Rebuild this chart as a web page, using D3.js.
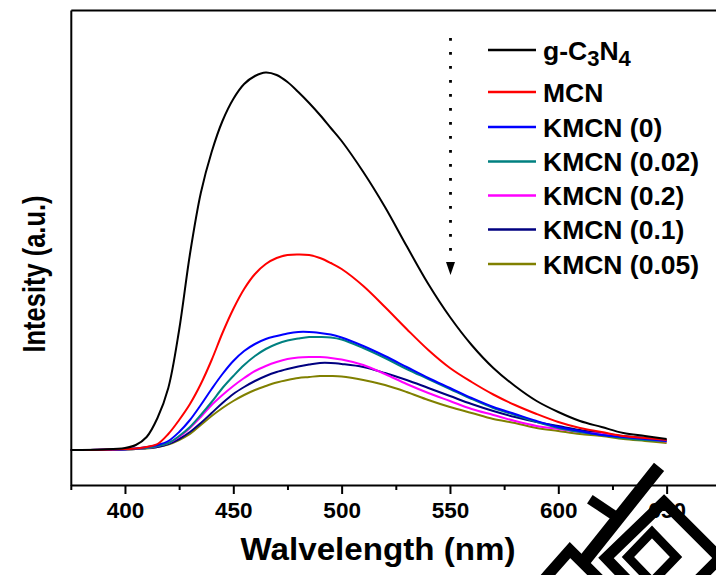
<!DOCTYPE html>
<html>
<head>
<meta charset="utf-8">
<script src="https://cdn.jsdelivr.net/npm/d3@7"></script>
<style>
  body { margin: 0; background: #fff; }
  svg { display: block; }
  text { font-family: "Liberation Sans", Arial, sans-serif; font-weight: bold; fill: #000; }
</style>
</head>
<body>
<div id="chart"></div>
<script>
// Wavelength grid (nm) shared by all spectra
const wavelengths = [375, 390, 400, 405, 410, 415, 420, 425, 430, 435, 440, 445, 450, 455, 460, 465, 470, 475, 480,
  485, 490, 495, 500, 510, 520, 530, 540, 550, 560, 570, 580, 590, 600, 610, 620, 630, 640, 650];

// PL intensity (a.u.)
const gC3N4 = [0, 0.5, 2, 5, 13, 32, 62, 120, 196, 257, 298, 329, 351, 366, 374, 377.5, 375, 368, 358,
  347, 335, 322, 309, 278, 243, 204, 166, 133, 105, 82, 64, 49, 38, 29, 23, 17, 14, 11];
const mcn = [0, 0.3, 1, 1.5, 3, 6, 16, 30, 46, 66, 90, 117, 141, 161, 176, 186, 192, 195, 195.5,
  195, 192, 187, 181, 164, 143, 121, 100, 82, 68, 55.5, 45, 36, 28, 22, 18, 14, 12, 10];
const kmcn0 = [0, 0.2, 0.8, 1.5, 3, 5, 9, 18, 30, 45, 61, 76, 89, 99, 106, 111, 114, 116.5, 118,
  118, 117, 115.5, 112.5, 104, 94, 83, 72, 62, 52, 43, 36, 29, 23, 19, 15, 13, 11, 9];
const kmcn002 = [0, 0.2, 0.7, 1.2, 2, 4, 7, 14, 23, 35, 48, 62, 74, 85, 94, 101, 106, 109.5, 111.5,
  113, 113, 112.5, 110.5, 102, 92, 81, 71, 61, 51, 42, 35, 28, 22, 18, 15, 12, 10, 9];
const kmcn02 = [0, 0.2, 0.7, 1.2, 2, 4, 7, 13, 22, 33, 45, 55, 64, 72, 79, 84, 88, 91, 92.5,
  93, 93, 92, 90.5, 85, 76, 66, 57, 49, 41, 35, 29, 24, 21, 18, 16, 13, 11, 8.5];
const kmcn01 = [0, 0.2, 0.6, 1, 2, 3, 6, 11, 18, 27, 37, 47, 56, 63, 69, 74, 78, 81, 83.5,
  85.5, 87, 87, 86, 83, 77, 70, 62, 54, 46, 39, 33, 28, 24, 20, 17, 14, 12, 10];
const kmcn005 = [0, 0.2, 0.5, 1, 1.5, 3, 5.5, 10, 16, 25, 34, 42, 49, 55, 60, 64, 67.5, 70, 72,
  73, 74, 74, 73.5, 70, 65, 58, 50, 43, 37, 31, 27, 22, 19, 16, 14, 11, 9, 7];

const seriesNames = ["g-C3N4", "MCN", "KMCN (0)", "KMCN (0.02)", "KMCN (0.2)", "KMCN (0.1)", "KMCN (0.05)"];
const seriesValues = [gC3N4, mcn, kmcn0, kmcn002, kmcn02, kmcn01, kmcn005];
const seriesColors = ["#000000", "#ff0000", "#0000ff", "#008080", "#ff00ff", "#000080", "#808000"];

const majorTicks = [400, 450, 500, 550, 600, 650];
const minorTicks = [375, 425, 475, 525, 575, 625, 675];

const width = 716, height = 575;
const svg = d3.select("#chart").append("svg")
  .attr("width", width)
  .attr("height", height);

// Scales: plot frame runs past the right edge of the picture
const x = d3.scaleLinear().domain([375, 675]).range([70.8, 720.8]);
const y = d3.scaleLinear().domain([-35, 440]).range([485, 10]);

// Spectra
const line = d3.line()
  .x((d, i) => x(wavelengths[i]))
  .y(d => y(d))
  .curve(d3.curveCatmullRom.alpha(0.5));

// draw from back to front so g-C3N4 sits on top like the original
svg.append("g").selectAll("path")
  .data(seriesValues.map((v, i) => ({ v, c: seriesColors[i] })).reverse())
  .enter().append("path")
  .attr("d", d => line(d.v))
  .attr("fill", "none")
  .attr("stroke", d => d.c)
  .attr("stroke-width", 2);

// Axes
const xAxis = svg.append("g")
  .attr("transform", `translate(0,${y(-35)})`)
  .call(d3.axisBottom(x).tickValues(majorTicks).tickSize(9).tickSizeOuter(0).tickPadding(8));
xAxis.select(".domain").attr("stroke-width", 2);
xAxis.selectAll(".tick line").attr("stroke-width", 2);
xAxis.selectAll(".tick text")
  .attr("font-size", 22.5)
  .attr("font-family", "Liberation Sans, Arial, sans-serif")
  .attr("font-weight", "bold");

const xMinor = svg.append("g")
  .attr("transform", `translate(0,${y(-35)})`)
  .call(d3.axisBottom(x).tickValues(minorTicks).tickSize(5).tickFormat(""));
xMinor.select(".domain").remove();
xMinor.selectAll(".tick line").attr("stroke-width", 2);

const yAxis = svg.append("g")
  .attr("transform", `translate(${x(375)},0)`)
  .call(d3.axisLeft(y).tickValues([]).tickSizeOuter(0));
yAxis.select(".domain").attr("stroke-width", 2);

const topAxis = svg.append("g")
  .attr("transform", `translate(0,${y(440)})`)
  .call(d3.axisTop(x).tickValues([]).tickSizeOuter(0));
topAxis.select(".domain").attr("stroke-width", 2);

// Axis titles
svg.append("text")
  .attr("x", 378).attr("y", 560)
  .attr("text-anchor", "middle")
  .attr("font-size", 31)
  .attr("textLength", 275)
  .attr("lengthAdjust", "spacingAndGlyphs")
  .text("Walvelength (nm)");

svg.append("text")
  .attr("transform", "translate(45,274) rotate(-90)")
  .attr("text-anchor", "middle")
  .attr("font-size", 32)
  .attr("textLength", 157)
  .attr("lengthAdjust", "spacingAndGlyphs")
  .text("Intesity (a.u.)");

// Legend
const legendRows = [50, 92, 127, 161.5, 195.5, 229.5, 264];
const legend = svg.append("g");
seriesNames.forEach((name, i) => {
  legend.append("line")
    .attr("x1", 488).attr("x2", 536)
    .attr("y1", legendRows[i]).attr("y2", legendRows[i])
    .attr("stroke", seriesColors[i])
    .attr("stroke-width", 2.5);
  const t = legend.append("text")
    .attr("x", 543).attr("y", legendRows[i] + 9.5)
    .attr("font-size", 26.5);
  if (name === "g-C3N4") {
    t.append("tspan").text("g-C");
    t.append("tspan").attr("dy", 6).attr("font-size", 22).text("3");
    t.append("tspan").attr("dy", -6).text("N");
    t.append("tspan").attr("dy", 6).attr("font-size", 22).text("4");
  } else {
    t.text(name);
  }
});

// Dotted arrow pointing down through the legend
svg.append("line")
  .attr("x1", 450.5).attr("x2", 450.5)
  .attr("y1", 38).attr("y2", 258)
  .attr("stroke", "#000")
  .attr("stroke-width", 2.8)
  .attr("stroke-dasharray", "2.8,11.2");
svg.append("path")
  .attr("d", "M446,262 L455,262 L450.5,275 Z")
  .attr("fill", "#000");

// Watermark blotch in the lower right corner (rough)
const mark = svg.append("g")
  .attr("fill", "none")
  .attr("stroke", "#000")
  .attr("stroke-linecap", "square");
mark.append("path").attr("d", "M655,472 L588,556").attr("stroke-width", 13);
mark.append("path").attr("d", "M594,502 L618,518").attr("stroke-width", 10);
mark.append("path").attr("d", "M664,502 L720,558 L662,616 L606,558 Z").attr("stroke-width", 11);
mark.append("path").attr("d", "M652,532 L676,557 L652,582 L628,557 Z").attr("stroke-width", 9);
mark.append("path").attr("d", "M548,575 L570,550 L598,578").attr("stroke-width", 11);
</script>
</body>
</html>
